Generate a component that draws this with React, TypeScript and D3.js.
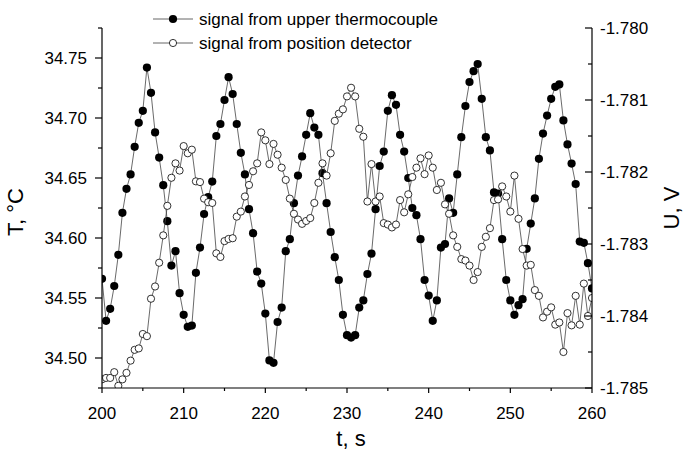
import React from "react";
import { scaleLinear, line, range } from "d3";

// sample times, s
const times = [
  200, 200.5, 201, 201.5, 202, 202.5, 203, 203.5, 204, 204.5,
  205, 205.5, 206, 206.5, 207, 207.5, 208, 208.5, 209, 209.5,
  210, 210.5, 211, 211.5, 212, 212.5, 213, 213.5, 214, 214.5,
  215, 215.5, 216, 216.5, 217, 217.5, 218, 218.5, 219, 219.5,
  220, 220.5, 221, 221.5, 222, 222.5, 223, 223.5, 224, 224.5,
  225, 225.5, 226, 226.5, 227, 227.5, 228, 228.5, 229, 229.5,
  230, 230.5, 231, 231.5, 232, 232.5, 233, 233.5, 234, 234.5,
  235, 235.5, 236, 236.5, 237, 237.5, 238, 238.5, 239, 239.5,
  240, 240.5, 241, 241.5, 242, 242.5, 243, 243.5, 244, 244.5,
  245, 245.5, 246, 246.5, 247, 247.5, 248, 248.5, 249, 249.5,
  250, 250.5, 251, 251.5, 252, 252.5, 253, 253.5, 254, 254.5,
  255, 255.5, 256, 256.5, 257, 257.5, 258, 258.5, 259, 259.5,
  260,
];

// upper thermocouple, °C
const thermo = [
  34.566, 34.531, 34.541, 34.56, 34.586, 34.621, 34.641, 34.653, 34.676, 34.696,
  34.706, 34.742, 34.721, 34.688, 34.667, 34.644, 34.614, 34.577, 34.589, 34.554,
  34.536, 34.526, 34.527, 34.571, 34.592, 34.62, 34.634, 34.647, 34.685, 34.695,
  34.715, 34.734, 34.72, 34.695, 34.671, 34.653, 34.624, 34.604, 34.572, 34.562,
  34.537, 34.498, 34.496, 34.53, 34.542, 34.589, 34.599, 34.629, 34.652, 34.668,
  34.686, 34.704, 34.692, 34.686, 34.654, 34.629, 34.605, 34.584, 34.565, 34.536,
  34.519, 34.517, 34.519, 34.542, 34.548, 34.57, 34.587, 34.624, 34.66, 34.672,
  34.706, 34.719, 34.711, 34.686, 34.672, 34.65, 34.625, 34.619, 34.599, 34.565,
  34.552, 34.531, 34.548, 34.592, 34.595, 34.633, 34.621, 34.653, 34.684, 34.71,
  34.73, 34.739, 34.745, 34.716, 34.684, 34.673, 34.638, 34.637, 34.599, 34.565,
  34.548, 34.536, 34.544, 34.549, 34.591, 34.612, 34.633, 34.666, 34.687, 34.702,
  34.716, 34.726, 34.728, 34.698, 34.678, 34.662, 34.645, 34.597, 34.596, 34.579,
  34.558,
];

// position detector, V
const detector = [
  -1.78488, -1.78486, -1.78486, -1.78478, -1.78497, -1.78488, -1.78479, -1.78462, -1.78447, -1.78445,
  -1.78425, -1.78428, -1.78376, -1.78359, -1.78326, -1.78288, -1.78247, -1.78208, -1.78188, -1.78198,
  -1.78164, -1.78174, -1.78169, -1.78213, -1.78214, -1.78237, -1.78242, -1.78243, -1.78313, -1.78318,
  -1.78296, -1.78293, -1.78292, -1.78262, -1.78255, -1.78234, -1.78218, -1.78199, -1.78188, -1.78145,
  -1.78156, -1.78189, -1.78161, -1.78176, -1.78194, -1.78211, -1.78237, -1.78258, -1.78266, -1.78272,
  -1.78268, -1.78264, -1.78243, -1.78215, -1.78188, -1.78205, -1.78174, -1.78129, -1.78119, -1.78113,
  -1.78095, -1.78083, -1.78095, -1.7814, -1.78151, -1.78241, -1.78189, -1.78241, -1.78234, -1.78271,
  -1.78273, -1.78277, -1.78273, -1.78239, -1.78256, -1.78231, -1.78207, -1.78194, -1.78181, -1.78203,
  -1.78177, -1.78194, -1.78225, -1.78215, -1.78245, -1.78258, -1.78288, -1.78304, -1.78321, -1.78323,
  -1.7833, -1.7835, -1.78339, -1.78304, -1.7829, -1.78278, -1.78239, -1.78238, -1.7822, -1.78234,
  -1.78255, -1.78205, -1.78265, -1.78307, -1.7833, -1.78329, -1.78364, -1.78372, -1.78402, -1.78394,
  -1.78388, -1.78412, -1.78409, -1.7845, -1.78396, -1.78413, -1.78372, -1.78412, -1.78355, -1.784,
  -1.78375,
];

const xTicks = [200, 210, 220, 230, 240, 250, 260];
const leftTicks = [34.5, 34.55, 34.6, 34.65, 34.7, 34.75];
const rightTicks = [-1.785, -1.784, -1.783, -1.782, -1.781, -1.78];
const legendLabels = ["signal from upper thermocouple", "signal from position detector"];

const font = "'Liberation Sans', Arial, sans-serif";

const App = () => {
  const width = 684;
  const height = 454;
  const left = 102;
  const right = 592;
  const top = 28;
  const bottom = 388;

  const x = scaleLinear().domain([200, 260]).range([left, right]);
  const yT = scaleLinear().domain([34.475, 34.775]).range([bottom, top]);
  const yU = scaleLinear().domain([-1.785, -1.78]).range([bottom, top]);

  const thermoLine = line<number>()
    .x((_, i) => x(times[i]))
    .y((d) => yT(d));
  const detLine = line<number>()
    .x((_, i) => x(times[i]))
    .y((d) => yU(d));

  const xMinor = range(205, 260, 10);
  const leftMinor = range(0, 7).map((i) => 34.475 + i * 0.05);
  const rightMinor = range(0, 5).map((i) => -1.7845 + i * 0.001);

  return (
    <svg
      width={width}
      height={height}
      style={{ position: "absolute", left: 0, top: 0, background: "#fff" }}
      fontFamily={font}
    >
      <defs>
        <clipPath id="plot">
          <rect x={left} y={top} width={right - left} height={bottom - top} />
        </clipPath>
      </defs>

      {/* series */}
      <g clipPath="url(#plot)">
        <path d={thermoLine(thermo) || ""} fill="none" stroke="#444" strokeWidth={0.8} />
        {thermo.map((d, i) => (
          <circle key={"t" + i} cx={x(times[i])} cy={yT(d)} r={4.1} fill="#000" />
        ))}
        <path d={detLine(detector) || ""} fill="none" stroke="#444" strokeWidth={0.8} />
        {detector.map((d, i) => (
          <circle
            key={"u" + i}
            cx={x(times[i])}
            cy={yU(d)}
            r={3.6}
            fill="#fff"
            stroke="#000"
            strokeWidth={0.8}
          />
        ))}
      </g>

      {/* axes */}
      <g stroke="#000" strokeWidth={1.2} fill="none">
        <line x1={left} x2={left} y1={top} y2={bottom} />
        <line x1={right} x2={right} y1={top} y2={bottom} />
        <line x1={left} x2={right} y1={bottom} y2={bottom} />
        {xTicks.map((t) => (
          <line key={"xt" + t} x1={x(t)} x2={x(t)} y1={bottom} y2={bottom + 5} />
        ))}
        {xMinor.map((t) => (
          <line key={"xm" + t} x1={x(t)} x2={x(t)} y1={bottom} y2={bottom + 3} />
        ))}
        {leftTicks.map((v) => (
          <line key={"lt" + v} x1={left - 7} x2={left} y1={yT(v)} y2={yT(v)} />
        ))}
        {leftMinor.map((v) => (
          <line key={"lm" + v} x1={left - 4} x2={left} y1={yT(v)} y2={yT(v)} />
        ))}
        {rightTicks.map((v) => (
          <line key={"rt" + v} x1={right - 7} x2={right} y1={yU(v)} y2={yU(v)} />
        ))}
        {rightMinor.map((v) => (
          <line key={"rm" + v} x1={right - 4} x2={right} y1={yU(v)} y2={yU(v)} />
        ))}
      </g>

      {/* tick labels */}
      <g fontSize={17} fill="#000">
        {xTicks.map((t) => (
          <text key={"xl" + t} x={x(t)} y={bottom + 31} textAnchor="middle">
            {t}
          </text>
        ))}
        {leftTicks.map((v) => (
          <text key={"ll" + v} x={87} y={yT(v) + 6} textAnchor="end">
            {v.toFixed(2)}
          </text>
        ))}
        {rightTicks.map((v) => (
          <text key={"rl" + v} x={600} y={yU(v) + 6}>
            {v.toFixed(3)}
          </text>
        ))}
      </g>

      {/* axis titles */}
      <g fontSize={22} fill="#000">
        <text x={351} y={446} textAnchor="middle">t, s</text>
        <text transform={`translate(23,${(top + bottom) / 2 + 4}) rotate(-90)`} textAnchor="middle">
          T, °C
        </text>
        <text transform={`translate(679,${(top + bottom) / 2}) rotate(-90)`} textAnchor="middle">
          U, V
        </text>
      </g>

      {/* legend */}
      {legendLabels.map((label, i) => {
        const ly = 19 + i * 24;
        return (
          <g key={label}>
            <line x1={153} x2={193} y1={ly} y2={ly} stroke="#555" strokeWidth={0.9} />
            {i === 0 ? (
              <circle cx={173} cy={ly} r={4.1} fill="#000" />
            ) : (
              <circle cx={173} cy={ly} r={3.6} fill="#fff" stroke="#000" strokeWidth={0.8} />
            )}
            <text x={199} y={ly + 6} fontSize={17} fill="#000">
              {label}
            </text>
          </g>
        );
      })}
    </svg>
  );
};

export default App;
